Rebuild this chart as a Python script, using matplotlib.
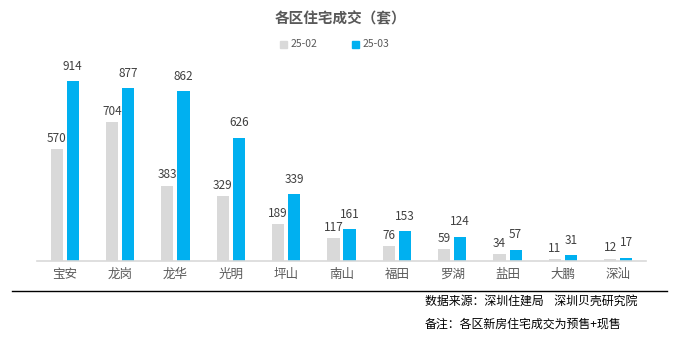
import matplotlib
matplotlib.use("Agg")
import matplotlib.pyplot as plt
import numpy as np

plt.rcParams['font.family'] = ['Noto Sans CJK SC', 'DejaVu Sans']

categories = ['宝安', '龙岗', '龙华', '光明', '坪山', '南山', '福田', '罗湖', '盐田', '大鹏', '深汕']
feb = [570, 704, 383, 329, 189, 117, 76, 59, 34, 11, 12]
mar = [914, 877, 862, 626, 339, 161, 153, 124, 57, 31, 17]
series_names = ['25-02', '25-03']
title = '各区住宅成交（套）'
note1 = '数据来源：深圳住建局    深圳贝壳研究院'
note2 = '备注：各区新房住宅成交为预售+现售'

W, H = 677, 339
fig = plt.figure(figsize=(W / 100, H / 100), dpi=100)
ax = fig.add_axes([37 / W, 1 - 261 / H, (646 - 37) / W, (261 - 64) / H])

gray = '#D9D9D9'
blue = '#00B0F0'
x = np.arange(len(categories))
w = 0.22
off = 0.145
ax.bar(x - off, feb, width=w, color=gray)
ax.bar(x + off, mar, width=w, color=blue)

for xi, v in zip(x, feb):
    ax.annotate(str(v), (xi - off, v), xytext=(0, 3), textcoords='offset points',
                ha='center', va='bottom', fontsize=8.5, color='#404040')
for xi, v in zip(x, mar):
    ax.annotate(str(v), (xi + off, v), xytext=(0, 6), textcoords='offset points',
                ha='center', va='bottom', fontsize=8.5, color='#404040')

ax.set_xlim(-0.5, len(categories) - 0.5)
ax.set_ylim(0, 1000)
ax.set_xticks(x)
ax.set_xticklabels(categories, fontsize=9, color='#595959')
ax.tick_params(axis='x', length=0, pad=5)
ax.set_yticks([])
for s in ['top', 'right', 'left']:
    ax.spines[s].set_visible(False)
ax.spines['bottom'].set_color(gray)
ax.spines['bottom'].set_linewidth(1.2)

fig.text(340 / W, 1 - 18 / H, title, ha='center', va='center', fontsize=10.5,
         fontweight='bold', color='#595959')

# legend
fig.patches.append(plt.Rectangle((280 / W, 1 - 48 / H), 7 / W, 7 / H, color=gray,
                                 transform=fig.transFigure))
fig.text(291 / W, 1 - 44 / H, series_names[0], ha='left', va='center', fontsize=7.5, color='#595959')
fig.patches.append(plt.Rectangle((352 / W, 1 - 48 / H), 7 / W, 7 / H, color=blue,
                                 transform=fig.transFigure))
fig.text(363 / W, 1 - 44 / H, series_names[1], ha='left', va='center', fontsize=7.5, color='#595959')

fig.add_artist(plt.Line2D([12 / W, 667 / W], [1 - 291 / H, 1 - 291 / H], color='black', lw=1,
                          transform=fig.transFigure))
fig.text(425 / W, 1 - 301 / H, note1, ha='left', va='center', fontsize=8.6, color='black')
fig.text(425 / W, 1 - 324 / H, note2, ha='left', va='center', fontsize=8.6, color='black')

fig.savefig('out.png', dpi=100)
